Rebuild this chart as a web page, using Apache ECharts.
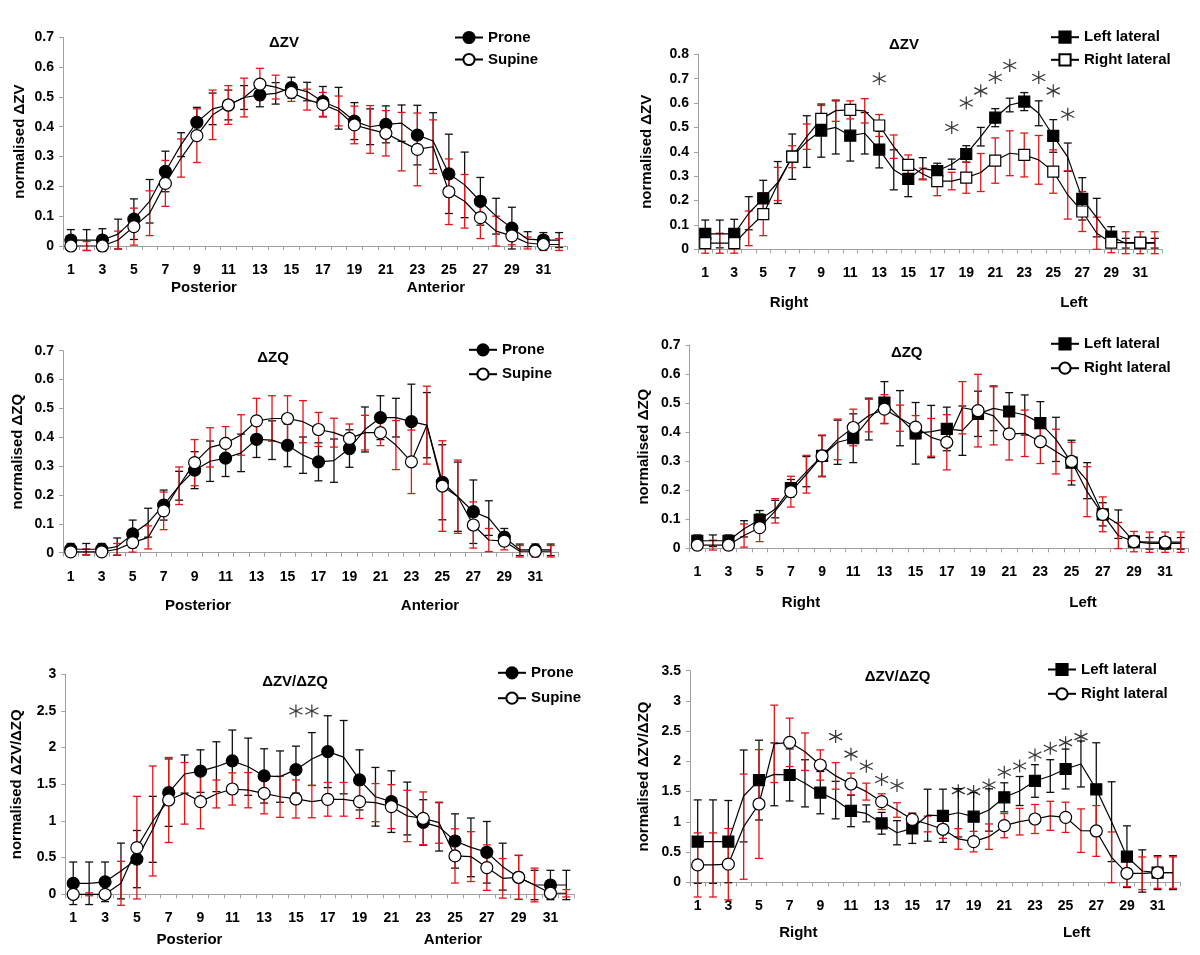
<!DOCTYPE html>
<html><head><meta charset="utf-8">
<script src="https://cdn.jsdelivr.net/npm/echarts@6/dist/echarts.min.js"></script>
<style>html,body{margin:0;padding:0;background:#fff}#c{width:1200px;height:955px}</style>
</head><body><div id="c"></div><script>
// ---------- data ----------
const cats = ['1','2','3','4','5','6','7','8','9','10','11','12','13','14','15','16','17','18','19','20','21','22','23','24','25','26','27','28','29','30','31','32'];

// Panel 1: ΔZV prone / supine
const p1ProneMean = [0.02,0.02,0.02,0.04,0.09,0.15,0.25,0.34,0.415,0.46,0.473,0.498,0.507,0.512,0.531,0.518,0.484,0.462,0.419,0.40,0.408,0.412,0.372,0.352,0.242,0.205,0.15,0.10,0.06,0.023,0.02,0.02];
const p1ProneSD   = [0.035,0.035,0.038,0.05,0.068,0.073,0.068,0.04,0.05,0.053,0.05,0.04,0.04,0.036,0.035,0.031,0.051,0.07,0.062,0.06,0.062,0.061,0.1,0.095,0.133,0.11,0.08,0.06,0.07,0.025,0.025,0.025];
const p1SupineMean = [0,0,0,0.02,0.065,0.11,0.21,0.295,0.37,0.44,0.473,0.498,0.543,0.533,0.515,0.491,0.475,0.453,0.406,0.391,0.378,0.35,0.324,0.333,0.182,0.15,0.095,0.05,0.034,0.01,0.005,0.005];
const p1SupineSD   = [0.015,0.015,0.015,0.03,0.062,0.075,0.077,0.064,0.09,0.083,0.065,0.065,0.053,0.04,0.03,0.035,0.04,0.05,0.063,0.08,0.076,0.098,0.122,0.09,0.11,0.09,0.07,0.05,0.03,0.02,0.02,0.02];

// Panel 2: ΔZV left / right lateral
const p2LeftMean = [0.063,0.063,0.063,0.148,0.209,0.274,0.38,0.442,0.487,0.50,0.466,0.476,0.409,0.326,0.289,0.332,0.321,0.349,0.391,0.462,0.54,0.592,0.606,0.558,0.465,0.378,0.207,0.13,0.052,0.025,0.025,0.025];
const p2LeftSD   = [0.057,0.057,0.06,0.068,0.074,0.086,0.093,0.106,0.109,0.109,0.104,0.085,0.075,0.082,0.073,0.044,0.032,0.021,0.034,0.038,0.037,0.028,0.037,0.051,0.067,0.058,0.087,0.079,0.041,0.02,0.02,0.02];
const p2RightMean = [0.025,0.025,0.025,0.086,0.144,0.268,0.38,0.462,0.535,0.569,0.572,0.568,0.508,0.421,0.346,0.309,0.28,0.28,0.294,0.315,0.364,0.394,0.387,0.367,0.319,0.223,0.155,0.066,0.027,0.027,0.027,0.027];
const p2RightSD   = [0.041,0.041,0.041,0.071,0.088,0.068,0.045,0.052,0.055,0.044,0.037,0.05,0.045,0.048,0.041,0.024,0.06,0.036,0.064,0.078,0.093,0.092,0.09,0.1,0.089,0.099,0.082,0.066,0.041,0.045,0.045,0.045];
const p2Stars = [['13',0.70],['18',0.50],['19',0.60],['20',0.65],['21',0.705],['22',0.754],['24',0.705],['25',0.65],['26',0.554]];

// Panel 3: ΔZQ prone / supine
const p3ProneMean = [0.012,0.012,0.012,0.021,0.065,0.104,0.165,0.232,0.286,0.317,0.328,0.346,0.393,0.39,0.372,0.338,0.315,0.319,0.361,0.427,0.468,0.468,0.454,0.442,0.244,0.194,0.142,0.12,0.054,0.01,0.01,0.01];
const p3ProneSD   = [0.02,0.02,0.02,0.03,0.048,0.05,0.052,0.05,0.064,0.07,0.064,0.065,0.063,0.067,0.074,0.063,0.066,0.075,0.065,0.078,0.076,0.067,0.13,0.113,0.13,0.12,0.11,0.06,0.03,0.02,0.02,0.02];
const p3SupineMean = [0.003,0.003,0.003,0.012,0.035,0.053,0.145,0.232,0.312,0.365,0.379,0.408,0.457,0.465,0.465,0.454,0.427,0.416,0.396,0.416,0.416,0.373,0.315,0.442,0.231,0.194,0.096,0.044,0.04,0.005,0.005,0.005];
const p3SupineSD   = [0.01,0.01,0.01,0.02,0.033,0.04,0.065,0.065,0.08,0.068,0.058,0.07,0.078,0.079,0.079,0.073,0.059,0.05,0.05,0.06,0.045,0.085,0.11,0.135,0.157,0.127,0.08,0.04,0.03,0.02,0.02,0.02];

// Panel 4: ΔZQ left / right lateral
const p4LeftMean = [0.026,0.026,0.026,0.067,0.098,0.135,0.207,0.264,0.318,0.365,0.379,0.445,0.502,0.448,0.396,0.402,0.411,0.405,0.463,0.482,0.471,0.459,0.431,0.375,0.295,0.233,0.117,0.083,0.023,0.017,0.017,0.017];
const p4LeftSD   = [0.02,0.02,0.02,0.028,0.032,0.03,0.03,0.052,0.07,0.076,0.084,0.072,0.072,0.095,0.106,0.09,0.075,0.085,0.078,0.077,0.065,0.069,0.074,0.076,0.077,0.062,0.04,0.049,0.02,0.02,0.02,0.02];
const p4RightMean = [0.011,0.011,0.011,0.044,0.071,0.129,0.195,0.255,0.318,0.375,0.416,0.457,0.479,0.448,0.417,0.382,0.365,0.484,0.474,0.456,0.394,0.396,0.367,0.333,0.299,0.195,0.117,0.044,0.023,0.021,0.021,0.021];
const p4RightSD   = [0.017,0.017,0.017,0.04,0.048,0.042,0.053,0.065,0.072,0.07,0.063,0.056,0.05,0.045,0.04,0.065,0.095,0.09,0.125,0.10,0.09,0.08,0.075,0.077,0.066,0.086,0.06,0.045,0.035,0.035,0.035,0.035];

// Panel 5: ΔZV/ΔZQ prone / supine
const p5ProneMean = [0.15,0.15,0.17,0.318,0.48,0.886,1.386,1.64,1.68,1.74,1.82,1.74,1.614,1.605,1.70,1.845,1.945,1.87,1.56,1.33,1.264,1.17,0.98,0.92,0.727,0.64,0.573,0.377,0.23,0.127,0.127,0.127];
const p5ProneSD   = [0.29,0.29,0.27,0.38,0.39,0.45,0.46,0.26,0.29,0.34,0.42,0.39,0.37,0.35,0.32,0.36,0.49,0.5,0.41,0.4,0.42,0.36,0.31,0.33,0.37,0.4,0.42,0.32,0.3,0.2,0.2,0.2];
const p5SupineMean = [0,0,0,0.15,0.636,1.0,1.286,1.377,1.264,1.368,1.436,1.42,1.377,1.33,1.30,1.264,1.295,1.295,1.264,1.25,1.195,1.068,1.036,0.977,0.523,0.514,0.364,0.218,0.232,0.127,0.014,0.014];
const p5SupineSD   = [0.02,0.02,0.02,0.3,0.7,0.75,0.58,0.42,0.37,0.19,0.22,0.24,0.28,0.28,0.26,0.22,0.23,0.23,0.23,0.26,0.3,0.35,0.36,0.28,0.37,0.34,0.31,0.27,0.3,0.23,0.05,0.05];
const p5Stars = [['15',2.5],['16',2.5]];

// Panel 6: ΔZV/ΔZQ left / right lateral
const p6LeftMean = [0.673,0.673,0.673,1.428,1.69,1.786,1.775,1.637,1.483,1.36,1.18,1.14,0.976,0.82,0.893,1.11,1.10,1.15,1.086,1.196,1.406,1.51,1.676,1.758,1.874,1.957,1.538,1.003,0.424,0.187,0.16,0.16];
const p6LeftSD   = [0.69,0.69,0.68,0.76,0.66,0.52,0.43,0.39,0.35,0.31,0.26,0.14,0.18,0.2,0.25,0.43,0.44,0.4,0.4,0.35,0.24,0.24,0.27,0.27,0.33,0.38,0.77,0.66,0.51,0.35,0.28,0.28];
const p6RightMean = [0.287,0.287,0.3,0.92,1.295,2.29,2.315,2.16,1.94,1.76,1.626,1.5,1.334,1.196,1.04,0.965,0.877,0.717,0.673,0.755,0.937,1.003,1.047,1.10,1.075,0.854,0.849,0.413,0.149,0.149,0.16,0.16];
const p6RightSD   = [0.53,0.53,0.59,0.87,0.9,0.64,0.4,0.31,0.25,0.22,0.18,0.14,0.13,0.12,0.1,0.13,0.15,0.17,0.17,0.21,0.2,0.22,0.24,0.24,0.25,0.36,0.42,0.42,0.22,0.27,0.26,0.26];
const p6Stars = [['10',2.41],['11',2.12],['12',1.92],['13',1.70],['14',1.60],['18',1.516],['19',1.5],['20',1.61],['21',1.82],['22',1.924],['23',2.106],['24',2.216],['25',2.31],['26',2.41]];

// ---------- layout ----------
const FONT = '"Liberation Sans", Arial, Helvetica, sans-serif';
const AXIS = '#a0a0a0';
const RED = '#e3151a';
const panels = [
  {grid:{left:63,top:37.3,width:504,height:208.7}, ymax:0.7, yint:0.1, yname:'normalised ΔZV', gap:36,
   s1:['Prone',p1ProneMean,p1ProneSD,'circle'], s2:['Supine',p1SupineMean,p1SupineSD,'circle'], stars:[],
   legend:{left:454,top:30,gap:7}, title:['ΔZV',284,43], sub:[['Posterior',204,288],['Anterior',436,288]]},
  {grid:{left:698,top:54.3,width:464,height:195}, ymax:0.8, yint:0.1, yname:'normalised ΔZV', gap:44,
   s1:['Left lateral',p2LeftMean,p2LeftSD,'rect'], s2:['Right lateral',p2RightMean,p2RightSD,'rect'], stars:p2Stars,
   legend:{left:1050,top:29.7,gap:7.6}, title:['ΔZV',904,45], sub:[['Right',789,303],['Left',1074,303]]},
  {grid:{left:63,top:350.7,width:495.5,height:202}, ymax:0.7, yint:0.1, yname:'normalised ΔZQ', gap:38,
   s1:['Prone',p3ProneMean,p3ProneSD,'circle'], s2:['Supine',p3SupineMean,p3SupineSD,'circle'], stars:[],
   legend:{left:468,top:342.3,gap:9.4}, title:['ΔZQ',273,358], sub:[['Posterior',198,606],['Anterior',430,606]]},
  {grid:{left:689.5,top:345,width:499,height:203.3}, ymax:0.7, yint:0.1, yname:'normalised ΔZQ', gap:38,
   s1:['Left lateral',p4LeftMean,p4LeftSD,'rect'], s2:['Right lateral',p4RightMean,p4RightSD,'circle'], stars:[],
   legend:{left:1050,top:336.3,gap:9.4}, title:['ΔZQ',906.7,353.3], sub:[['Right',801,602.7],['Left',1083,602.7]]},
  {grid:{left:65.3,top:674.3,width:509,height:220}, ymax:3, yint:0.5, yname:'normalised ΔZV/ΔZQ', gap:41,
   s1:['Prone',p5ProneMean,p5ProneSD,'circle'], s2:['Supine',p5SupineMean,p5SupineSD,'circle'], stars:p5Stars,
   legend:{left:497,top:665.3,gap:10.4}, title:['ΔZV/ΔZQ',295,681.7], sub:[['Posterior',189.5,940],['Anterior',453,940]]},
  {grid:{left:690,top:670.7,width:490.6,height:211.6}, ymax:3.5, yint:0.5, yname:'normalised ΔZV/ΔZQ', gap:39,
   s1:['Left lateral',p6LeftMean,p6LeftSD,'rect'], s2:['Right lateral',p6RightMean,p6RightSD,'circle'], stars:p6Stars,
   legend:{left:1047,top:662,gap:9.3}, title:['ΔZV/ΔZQ',897.5,677.3], sub:[['Right',798.3,933.3],['Left',1076.7,933.3]]}
];

function errBars(idx, name, mean, sd, color) {
  return {
    type:'custom', name:name, xAxisIndex:idx, yAxisIndex:idx, silent:true, z:2, clip:false,
    data: mean.map((m,i)=>[i, m - sd[i], m + sd[i]]),
    encode:{x:0, y:[1,2]},
    renderItem:(params, api)=>{
      const lo = api.coord([api.value(0), api.value(1)]);
      const hi = api.coord([api.value(0), api.value(2)]);
      const hw = 4;
      const st = {stroke:color, lineWidth:1.3};
      return {type:'group', children:[
        {type:'line', shape:{x1:lo[0],y1:lo[1],x2:hi[0],y2:hi[1]}, style:st},
        {type:'line', shape:{x1:lo[0]-hw,y1:lo[1],x2:lo[0]+hw,y2:lo[1]}, style:st},
        {type:'line', shape:{x1:hi[0]-hw,y1:hi[1],x2:hi[0]+hw,y2:hi[1]}, style:st}
      ]};
    }
  };
}

function lineSeries(idx, s, filled, z) {
  return {
    type:'line', name:s[0]+'|'+idx, xAxisIndex:idx, yAxisIndex:idx, data:s[1],
    symbol:s[3], symbolSize: s[3]==='rect' ? 11 : 12, z:z, silent:true,
    lineStyle:{color:'#000', width:1.2},
    itemStyle:{color: filled ? '#000' : '#fff', borderColor:'#000', borderWidth:1.2},
    emphasis:{disabled:true}
  };
}

const grid=[], xAxis=[], yAxis=[], series=[], legend=[], graphic=[];
panels.forEach((p, i)=>{
  grid.push(Object.assign({containLabel:false}, p.grid));
  xAxis.push({gridIndex:i, type:'category', data:cats, boundaryGap:true,
    axisLine:{lineStyle:{color:AXIS, width:1}},
    axisTick:{show:true, interval:0, length:4, lineStyle:{color:AXIS}},
    axisLabel:{interval:1, margin:17, color:'#000', fontWeight:'bold', fontSize:14, fontFamily:FONT},
    splitLine:{show:false}});
  yAxis.push({gridIndex:i, type:'value', min:0, max:p.ymax, interval:p.yint,
    axisLine:{show:true, lineStyle:{color:AXIS, width:1}},
    axisTick:{show:true, length:4, lineStyle:{color:AXIS}},
    axisLabel:{margin:9, color:'#000', fontWeight:'bold', fontSize:14, fontFamily:FONT},
    splitLine:{show:false},
    name:p.yname, nameLocation:'middle', nameGap:p.gap,
    nameTextStyle:{color:'#000', fontWeight:'bold', fontSize:15, fontFamily:FONT}});
  series.push(errBars(i, 'eb1-'+i, p.s1[1], p.s1[2], '#111'));
  series.push(lineSeries(i, p.s1, true, 3));
  series.push(errBars(i, 'eb2-'+i, p.s2[1], p.s2[2], RED));
  series.push(lineSeries(i, p.s2, false, 4));
  if (p.stars.length) {
    series.push({type:'scatter', name:'stars-'+i, xAxisIndex:i, yAxisIndex:i, data:p.stars, silent:true, z:5,
      symbol:'path://M6,0L6,12M0.8,3L11.2,9M0.8,9L11.2,3', symbolSize:[13,13],
      itemStyle:{color:'transparent', borderColor:'#000', borderWidth:1.2}});
  }
  legend.push({orient:'vertical', left:p.legend.left, top:p.legend.top, itemWidth:28, itemHeight:14,
    itemGap:p.legend.gap, selectedMode:false, padding:0,
    data:[p.s1[0]+'|'+i, p.s2[0]+'|'+i], formatter:n=>n.split('|')[0],
    textStyle:{color:'#000', fontWeight:'bold', fontSize:15, fontFamily:FONT, lineHeight:14}});
  graphic.push({type:'text', x:p.title[1], y:p.title[2], silent:true,
    style:{text:p.title[0], align:'center', verticalAlign:'middle', fill:'#000', font:'bold 15px '+FONT}});
  p.sub.forEach(s=>graphic.push({type:'text', x:s[1], y:s[2], silent:true,
    style:{text:s[0], align:'center', verticalAlign:'middle', fill:'#000', font:'bold 15px '+FONT}}));
});

const chart = echarts.init(document.getElementById('c'), null, {renderer:'canvas'});
chart.setOption({animation:false, backgroundColor:'#fff', grid, xAxis, yAxis, series, legend, graphic});
</script></body></html>
